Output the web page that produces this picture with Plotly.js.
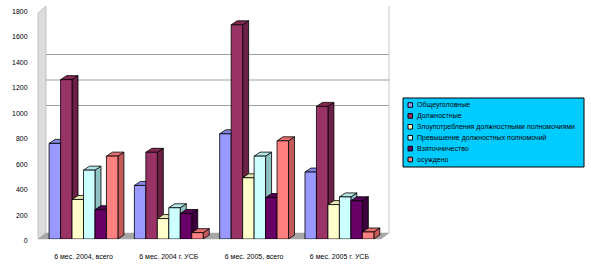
<!DOCTYPE html>
<html>
<head>
<meta charset="utf-8">
<script src="https://cdn.plot.ly/plotly-3.0.1.min.js"></script>
<style>html,body{margin:0;padding:0;background:#fff;}#chart{width:591px;height:265px;}</style>
</head>
<body>
<div id="chart"></div>
<script>
// ---- data ----
var categories = ['6 мес. 2004, всего', '6 мес. 2004 г. УСБ', '6 мес. 2005, всего', '6 мес. 2005 г. УСБ'];
var seriesNames = ['Общеуголовные', 'Должностные', 'Злоупотребления должностными полномочиями', 'Превышение должностных полномочий', 'Взяточничество', 'осуждено'];
var obscheugolovnye = [750, 420, 825, 525];
var dolzhnostnye = [1250, 680, 1680, 1040];
var zloupotrebleniya = [310, 160, 480, 270];
var prevyshenie = [540, 245, 650, 330];
var vzyatochnichestvo = [230, 200, 325, 300];
var osuzhdeno = [650, 50, 770, 55];
var yTicks = [0, 200, 400, 600, 800, 1000, 1200, 1400, 1600, 1800];
var gridValues = [1000, 1200, 1400];

var seriesValues = [obscheugolovnye, dolzhnostnye, zloupotrebleniya, prevyshenie, vzyatochnichestvo, osuzhdeno];
var colors = ['#9999FF', '#993366', '#FFFFCC', '#CCFFFF', '#660066', '#FF8080'];
var topColors = ['#8585E6', '#84284F', '#E6E6B3', '#B3E6E6', '#550055', '#E66E6E'];
var sideColors = ['#6B6BC2', '#6B2045', '#C2C28F', '#8FC2C2', '#3D003D', '#C25A5A'];

// ---- geometry (pixels) ----
var W = 591, H = 265;
var plotL = 38, plotR = 389, plotT = 5, plotB = 239;
var xPxPerUnit = 85.3, yPxPerUnit = 0.1275;
var x0px = 83.5;
var groupWidth = 0.807;
var barDX = 6, barDY = 4;     // bar depth in px
var floorDX = 8, floorDY = 6; // floor depth in px

var xRange = [-(x0px - plotL) / xPxPerUnit, -(x0px - plotL) / xPxPerUnit + (plotR - plotL) / xPxPerUnit];
var yRange = [0, (plotB - plotT) / yPxPerUnit];
function px2paperX(px) { return (px - plotL) / (plotR - plotL); }
function px2paperY(py) { return (plotB - py) / (plotB - plotT); }

var xs = categories.map(function (c, i) { return i; });
var traces = seriesValues.map(function (vals, j) {
  return {
    type: 'bar', x: xs, y: vals, name: seriesNames[j],
    marker: { color: colors[j], line: { color: '#000', width: 0.8 } },
    showlegend: false, hoverinfo: 'skip'
  };
});

var shapes = [];
var fx = px2paperX(plotL + floorDX), fy = px2paperY(plotB - floorDY);
// left wall
shapes.push({ type: 'path', xref: 'paper', yref: 'paper', layer: 'between',
  path: 'M0,0 L0,' + px2paperY(13) + ' L' + fx + ',' + px2paperY(6) + ' L' + fx + ',' + fy + ' Z',
  fillcolor: '#DCDCDC', line: { color: '#B8B8B8', width: 0.8 } });
// floor
shapes.push({ type: 'path', xref: 'paper', yref: 'paper', layer: 'between',
  path: 'M0,0 L' + px2paperX(plotR - floorDX) + ',0 L1,' + fy + ' L' + fx + ',' + fy + ' Z',
  fillcolor: '#A6A6A6', line: { color: '#A6A6A6', width: 0.5 } });
// back wall right edge
shapes.push({ type: 'line', xref: 'paper', yref: 'paper', layer: 'between',
  x0: 1, x1: 1, y0: fy, y1: px2paperY(6), line: { color: '#C8C8C8', width: 1 } });
// gridlines on back wall
gridValues.forEach(function (g) {
  var yv = g + floorDY / yPxPerUnit;
  shapes.push({ type: 'line', xref: 'paper', yref: 'y', layer: 'between',
    x0: fx, x1: 1, y0: yv, y1: yv, line: { color: '#A0A0A0', width: 1 } });
});
// 3D faces of bars
var bw = groupWidth / seriesValues.length;
var DX = barDX / xPxPerUnit, DY = barDY / yPxPerUnit;
categories.forEach(function (c, i) {
  seriesValues.forEach(function (vals, j) {
    var v = vals[i];
    var xl = i - groupWidth / 2 + j * bw, xr = xl + bw;
    shapes.push({ type: 'path', xref: 'x', yref: 'y', layer: 'between',
      path: 'M' + xr + ',' + v + ' L' + (xr + DX) + ',' + (v + DY) + ' L' + (xr + DX) + ',' + DY + ' L' + xr + ',0 Z',
      fillcolor: sideColors[j], line: { color: '#000', width: 0.8 } });
    shapes.push({ type: 'path', xref: 'x', yref: 'y', layer: 'between',
      path: 'M' + xl + ',' + v + ' L' + (xl + DX) + ',' + (v + DY) + ' L' + (xr + DX) + ',' + (v + DY) + ' L' + xr + ',' + v + ' Z',
      fillcolor: topColors[j], line: { color: '#000', width: 0.8 } });
  });
});

// legend (manual)
var annotations = [];
var legL = 403, legR = 584, legT = 98, legB = 167;
shapes.push({ type: 'rect', xref: 'paper', yref: 'paper', layer: 'above',
  x0: px2paperX(legL), x1: px2paperX(legR), y0: px2paperY(legB), y1: px2paperY(legT),
  fillcolor: '#00CCFF', line: { color: '#000', width: 1 } });
seriesNames.forEach(function (n, j) {
  var cy = 105 + j * 10.9;
  shapes.push({ type: 'rect', xref: 'paper', yref: 'paper', layer: 'above',
    x0: px2paperX(408), x1: px2paperX(412.5), y0: px2paperY(cy + 2.3), y1: px2paperY(cy - 2.3),
    fillcolor: colors[j], line: { color: '#000', width: 1 } });
  annotations.push({ xref: 'paper', yref: 'paper', x: px2paperX(415), y: px2paperY(cy),
    xanchor: 'left', yanchor: 'middle', showarrow: false, text: n,
    font: { family: 'Liberation Sans, Arial, sans-serif', size: 7, color: '#000' } });
});

var layout = {
  width: W, height: H,
  margin: { l: plotL, r: W - plotR, t: plotT, b: H - plotB, pad: 0 },
  paper_bgcolor: '#fff', plot_bgcolor: 'rgba(0,0,0,0)',
  barmode: 'group', bargap: 1 - groupWidth, bargroupgap: 0,
  showlegend: false,
  xaxis: { range: xRange, tickvals: xs, ticktext: categories, showgrid: false, zeroline: false,
    showline: false, ticks: 'outside', ticklen: 11, tickcolor: 'rgba(0,0,0,0)',
    tickfont: { family: 'Liberation Sans, Arial, sans-serif', size: 7, color: '#000' }, fixedrange: true },
  yaxis: { range: yRange, tickvals: yTicks, ticktext: yTicks.map(String), showgrid: false, zeroline: false,
    showline: false, ticks: 'outside', ticklen: 8, tickcolor: 'rgba(0,0,0,0)', ticklabelshift: 2,
    tickfont: { family: 'Liberation Sans, Arial, sans-serif', size: 7, color: '#000' }, fixedrange: true },
  shapes: shapes, annotations: annotations
};

Plotly.newPlot('chart', traces, layout, { staticPlot: true, displayModeBar: false });
</script>
</body>
</html>
